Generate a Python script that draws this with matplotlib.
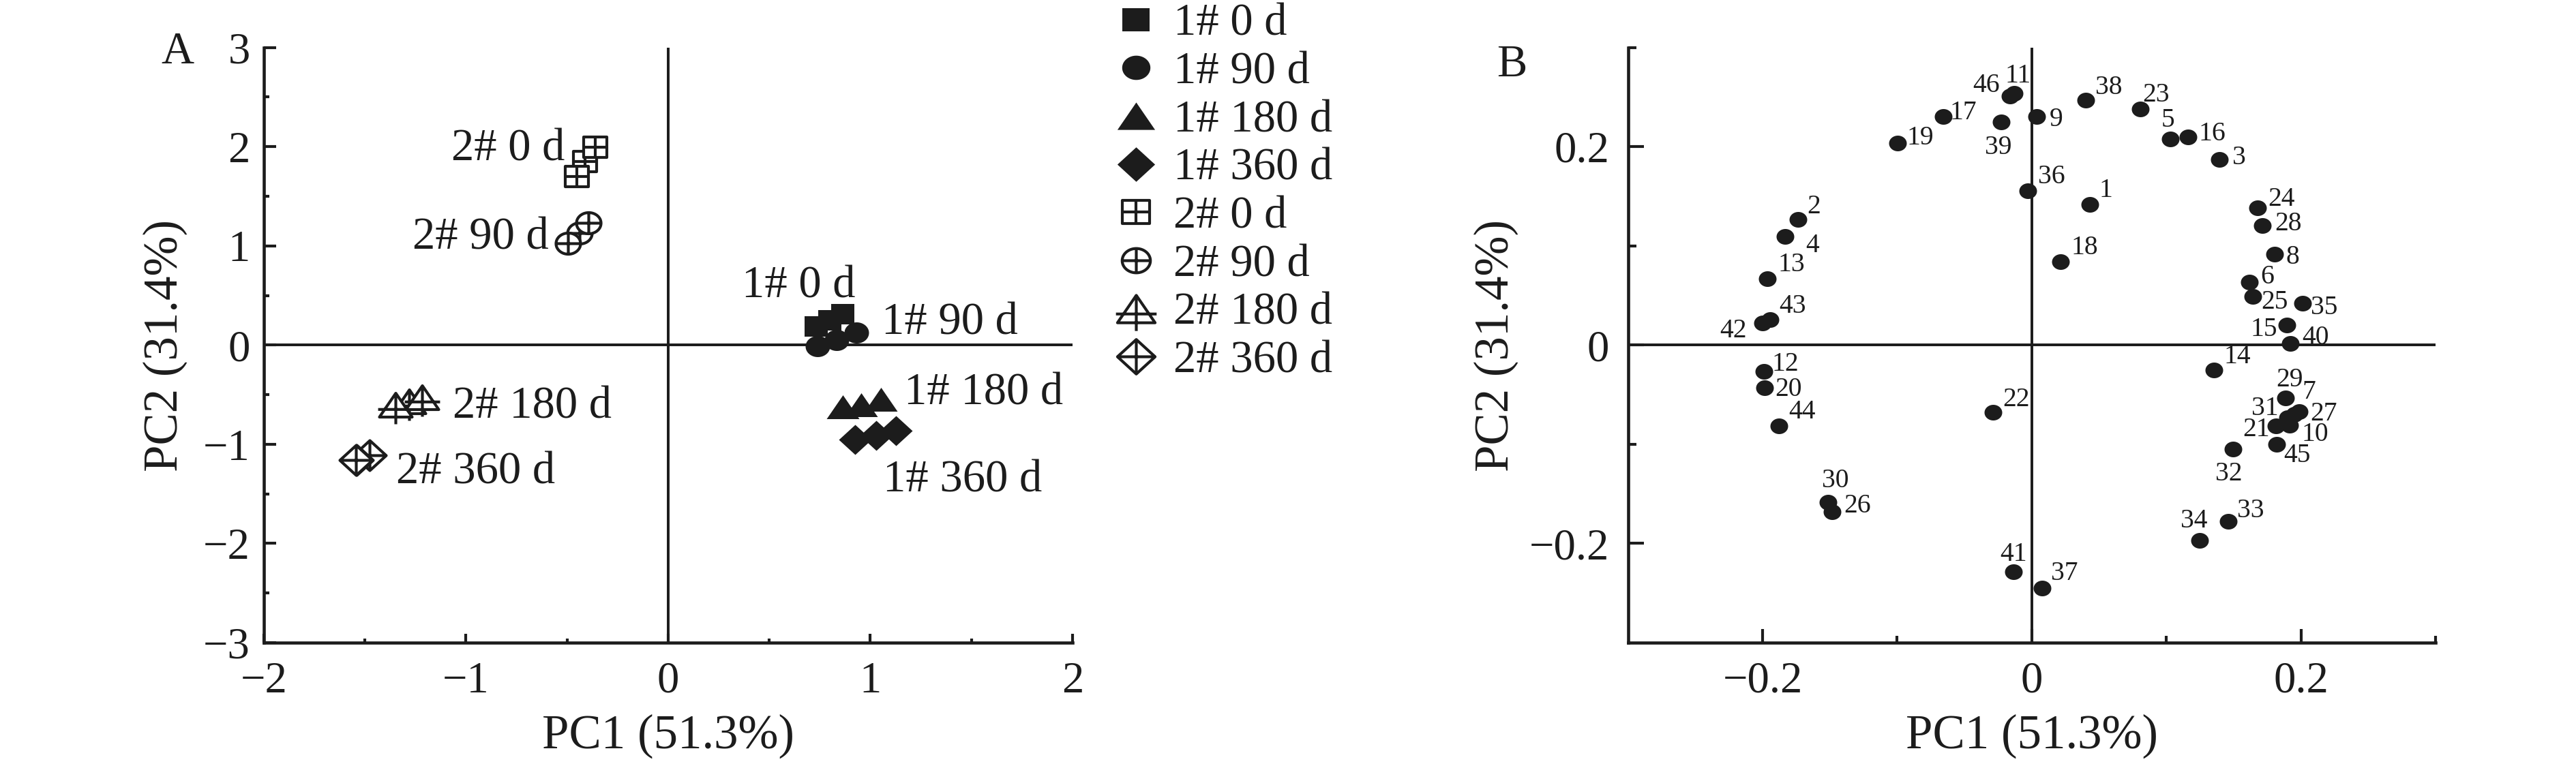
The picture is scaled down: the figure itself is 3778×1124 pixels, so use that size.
import numpy as np
import matplotlib
matplotlib.use("Agg")
import matplotlib.pyplot as plt
from matplotlib.path import Path
from matplotlib.lines import Line2D

plt.rcParams['font.family'] = ['Liberation Serif', 'DejaVu Serif']
plt.rcParams['axes.unicode_minus'] = True

DPI = 300
PX = DPI / 72.0
INK = '#1c1c1c'
W_PX, H_PX = 3779, 1124

# ---------------- Panel A data ----------------
group_labels = ["1# 0 d", "1# 90 d", "1# 180 d", "1# 360 d",
                "2# 0 d", "2# 90 d", "2# 180 d", "2# 360 d"]
pc1_1_0d = [0.733, 0.798, 0.862]
pc2_1_0d = [0.19, 0.25, 0.31]
pc1_1_90d = [0.737, 0.834, 0.93]
pc2_1_90d = [-0.01, 0.048, 0.126]
pc1_1_180d = [0.863, 0.956, 1.052]
pc2_1_180d = [-0.625, -0.60, -0.548]
pc1_1_360d = [0.924, 1.027, 1.126]
pc2_1_360d = [-0.95, -0.91, -0.865]
pc1_2_0d = [-0.410, -0.362, -0.453]
pc2_2_0d = [1.848, 1.996, 1.699]
pc1_2_90d = [-0.438, -0.396, -0.495]
pc2_2_90d = [1.128, 1.231, 1.025]
pc1_2_180d = [-1.282, -1.349, -1.217]
pc2_2_180d = [-0.567, -0.602, -0.525]
pc1_2_360d = [-1.478, -1.543, -1.546]
pc2_2_360d = [-1.114, -1.157, -1.16]

a_xticks = [-2, -1, 0, 1, 2]
a_xticklabels = ["\u22122", "\u22121", "0", "1", "2"]
a_yticks = [-3, -2, -1, 0, 1, 2, 3]
a_yticklabels = ["\u22123", "\u22122", "\u22121", "0", "1", "2", "3"]

# ---------------- Panel B data ----------------
var_ids = list(range(1, 47))
pc1_B = [0.043, -0.1738, 0.1393, -0.1835, 0.103, 0.1618, 0.1952, 0.1805, 0.0034, 0.1918,
         -0.0131, -0.1992, -0.1963, 0.1352, 0.1896, 0.1163, -0.0657, 0.0213, -0.0995, -0.1985,
         0.1813, -0.0288, 0.0805, 0.1676, 0.164, -0.1484, 0.1989, 0.1713, 0.1884, -0.1516,
         0.190, 0.1497, 0.1459, 0.1248, 0.201, -0.0027, 0.0079, 0.0401, -0.0228, 0.192,
         -0.0136, -0.2, -0.1944, -0.1878, 0.182, -0.0162]
pc2_B = [0.1415, 0.1267, 0.187, 0.1095, 0.2074, 0.0633, -0.0697, 0.0918, 0.23, -0.0811,
         0.254, -0.0263, 0.0665, -0.0249, 0.0198, 0.2096, 0.23, 0.0837, 0.2037, -0.0433,
         -0.0816, -0.0679, 0.2379, 0.1385, 0.0492, -0.1678, -0.0669, 0.1206, -0.0536, -0.1585,
         -0.0731, -0.1047, -0.1778, -0.197, 0.0419, 0.1557, -0.2448, 0.2467, 0.225, 0.0018,
         -0.2287, 0.0222, 0.0259, -0.0815, -0.1002, 0.2509]
b_ticks = [-0.2, 0, 0.2]
b_ticklabels = ["\u22120.2", "0", "0.2"]

# label placement for panel B (pixel offsets: right, down)
b_label_offsets = [(23.9, -25), (23, -23.2), (28.7, -7.1), (40.6, 8.9), (-3.3, -32.1),
                   (25.8, -11.8), (20.7, -36.7), (26.3, 0), (29.6, 0), (36.7, 8.3),
                   (5.7, -29.3), (32, -14.4), (34.9, -25), (34.4, -23.2), (-33.5, 1.8),
                   (34.9, -8.9), (29.6, -10.7), (35.9, -25), (32.5, -11.4), (35.4, -2),
                   (-29, 1), (34.4, -23.4), (23, -25), (34.9, -16.8), (32.5, 4.6),
                   (36.8, -12.3), (36, -1), (38.2, -7.1), (6, -31.7), (11, -35.8),
                   (-33, -18), (-6.2, 32), (32.5, -20.6), (-8.6, -32.9), (32, 1.8),
                   (34.4, -25), (32.5, -25.5), (33.5, -22.8), (-3.8, 32.8), (36.8, -12.9),
                   (0, -30), (-42.5, 7.1), (32.5, -23.2), (34, -24.7), (30, 12.3),
                   (-34.4, -19.6)]


# ---------------- marker helpers ----------------
def _poly(pts, closed=True):
    pts = [tuple(p) for p in pts]
    if closed:
        verts = pts + [pts[0]]
        codes = [Path.MOVETO] + [Path.LINETO] * (len(pts) - 1) + [Path.CLOSEPOLY]
    else:
        verts = pts
        codes = [Path.MOVETO] + [Path.LINETO] * (len(pts) - 1)
    return verts, codes


def _ellipse(w, h, n=72):
    t = np.linspace(0, 2 * np.pi, n, endpoint=False)
    return _poly(np.column_stack([w / 2 * np.cos(t), h / 2 * np.sin(t)]))


def _marker(*parts):
    verts, codes = [], []
    for v, c in parts:
        verts += list(v)
        codes += list(c)
    verts = np.asarray(verts, float)
    return Path(verts, codes), 2 * np.abs(verts).max() / PX


def m_square(w, h, cross=False):
    parts = [_poly([(-w / 2, -h / 2), (w / 2, -h / 2), (w / 2, h / 2), (-w / 2, h / 2)])]
    if cross:
        parts += [_poly([(0, -h / 2), (0, h / 2)], False), _poly([(-w / 2, 0), (w / 2, 0)], False)]
    return _marker(*parts)


def m_circle(w, h, cross=False):
    parts = [_ellipse(w, h)]
    if cross:
        parts += [_poly([(0, -h / 2), (0, h / 2)], False), _poly([(-w / 2, 0), (w / 2, 0)], False)]
    return _marker(*parts)


def m_triangle(w, h, cross=False):
    parts = [_poly([(0, h / 2), (-w / 2, -h / 2), (w / 2, -h / 2)])]
    if cross:
        yh = h / 2 - 0.68 * h
        parts += [_poly([(0, h / 2), (0, -h / 2 - 0.3 * h)], False),
                  _poly([(-0.54 * w, yh), (0.54 * w, yh)], False)]
    return _marker(*parts)


def m_diamond(w, h, cross=False):
    parts = [_poly([(0, h / 2), (w / 2, 0), (0, -h / 2), (-w / 2, 0)])]
    if cross:
        parts += [_poly([(0, -h / 2), (0, h / 2)], False), _poly([(-w / 2, 0), (w / 2, 0)], False)]
    return _marker(*parts)


shape_funcs = [m_square, m_circle, m_triangle, m_diamond]
shape_dims = [(35, 30), (36, 31), (48, 35), (48, 44)]
LEG_SCALE = 1.15

xs_A = [pc1_1_0d, pc1_1_90d, pc1_1_180d, pc1_1_360d, pc1_2_0d, pc1_2_90d, pc1_2_180d, pc1_2_360d]
ys_A = [pc2_1_0d, pc2_1_90d, pc2_1_180d, pc2_1_360d, pc2_2_0d, pc2_2_90d, pc2_2_180d, pc2_2_360d]

# ---------------- figure ----------------
fig = plt.figure(figsize=(W_PX / DPI, H_PX / DPI), dpi=DPI)
top_px, bot_px = 69.6, 943.0
axA = fig.add_axes([387 / W_PX, 1 - bot_px / H_PX, (1573 - 387) / W_PX, (bot_px - top_px) / H_PX])
axB = fig.add_axes([2387.6 / W_PX, 1 - bot_px / H_PX, (3572 - 2387.6) / W_PX, (bot_px - top_px) / H_PX])

for ax in (axA, axB):
    for s in ('top', 'right'):
        ax.spines[s].set_visible(False)
    for s in ('left', 'bottom'):
        ax.spines[s].set_linewidth(1.1)
        ax.spines[s].set_color(INK)
    ax.axhline(0, color=INK, lw=0.95, zorder=1)
    ax.axvline(0, color=INK, lw=0.95, zorder=1)
    ax.tick_params(which='both', direction='in', color=INK, width=1.0,
                   labelcolor=INK, labelsize=15.5)

# ---- Panel A ----
handles = []
for gi in range(8):
    f = shape_funcs[gi % 4]
    w, h = shape_dims[gi % 4]
    cross = gi >= 4
    path, size = f(w, h, cross)
    lpath, lsize = f(w * LEG_SCALE, h * LEG_SCALE, cross)
    if cross:
        fc, ec, lw = 'white', INK, 1.0
    else:
        fc, ec, lw = INK, INK, 0.0
    axA.scatter(xs_A[gi], ys_A[gi], marker=path, s=size ** 2, facecolors=fc,
                edgecolors=ec, linewidths=lw, zorder=3)
    handles.append(Line2D([], [], linestyle='none', marker=lpath, markersize=lsize,
                          markerfacecolor=fc, markeredgecolor=ec, markeredgewidth=lw))

axA.set_xlim(-2, 2)
axA.set_ylim(-3, 3)
axA.set_xticks(a_xticks)
axA.set_xticklabels(a_xticklabels)
axA.set_xticks([-1.5, -0.5, 0.5, 1.5], minor=True)
axA.set_yticks(a_yticks)
axA.set_yticklabels(a_yticklabels)
axA.set_yticks(np.arange(-2.5, 3, 1.0), minor=True)
axA.tick_params(axis='y', which='major', length=4.3, pad=4.8)
axA.tick_params(axis='y', which='minor', length=2.0)
axA.tick_params(axis='x', which='major', length=3.1, pad=6.5)
axA.tick_params(axis='x', which='minor', length=1.5)

# group labels in panel A (data coords of anchor)
a_label_pos = [(0.364, 0.477, 'left'), (1.056, 0.106, 'left'), (1.166, -0.597, 'left'),
               (1.062, -1.476, 'left'), (-0.512, 1.86, 'right'), (-0.590, 0.968, 'right'),
               (-1.067, -0.737, 'left'), (-1.347, -1.393, 'left')]
for lab, (lx, ly, ha) in zip(group_labels, a_label_pos):
    axA.text(lx, ly, lab, ha=ha, va='baseline', fontsize=16, color=INK, zorder=4)

axA.set_xlabel("PC1 (51.3%)", fontsize=17, color=INK)
axA.set_ylabel("PC2 (31.4%)", fontsize=17, color=INK)
axA.xaxis.set_label_coords(0.5, (bot_px - 1080) / (bot_px - top_px))
axA.xaxis.label.set_verticalalignment('center')
axA.yaxis.set_label_coords((242 - 387) / 1186, 0.499)
axA.yaxis.label.set_verticalalignment('center')

fig.legend(handles, group_labels, loc='upper left',
           bbox_to_anchor=(1626 / W_PX, 1 - 5 / H_PX), bbox_transform=fig.transFigure,
           frameon=False, borderpad=0, borderaxespad=0, handlelength=1.2,
           handletextpad=0.23, labelspacing=0.145, fontsize=16, labelcolor=INK)

# ---- Panel B ----
pB, sB = m_circle(26, 23)
axB.scatter(pc1_B, pc2_B, marker=pB, s=sB ** 2, facecolors=INK, edgecolors=INK,
            linewidths=0, zorder=3)
for vid, x, y, (dx, dy) in zip(var_ids, pc1_B, pc2_B, b_label_offsets):
    axB.annotate(str(vid), (x, y), xytext=(dx / PX, -dy / PX), textcoords='offset points',
                 ha='center', va='center_baseline', fontsize=9.5, color=INK, zorder=4)

axB.set_xlim(-0.3, 0.3)
axB.set_ylim(-0.3, 0.3)
axB.set_xticks(b_ticks)
axB.set_xticklabels(b_ticklabels)
axB.set_xticks([-0.1, 0.1, 0.3], minor=True)
axB.set_yticks(b_ticks)
axB.set_yticklabels(b_ticklabels)
axB.set_yticks([-0.1, 0.1, 0.3], minor=True)
axB.tick_params(axis='y', which='major', length=5.5, pad=6.6)
axB.tick_params(axis='y', which='minor', length=2.9)
axB.tick_params(axis='x', which='major', length=4.8, pad=6.5)
axB.tick_params(axis='x', which='minor', length=2.4)

axB.set_xlabel("PC1 (51.3%)", fontsize=17, color=INK)
axB.set_ylabel("PC2 (31.4%)", fontsize=17, color=INK)
axB.xaxis.set_label_coords(0.5, (bot_px - 1080) / (bot_px - top_px))
axB.xaxis.label.set_verticalalignment('center')
axB.yaxis.set_label_coords((2194 - 2387.6) / 1184.4, 0.499)
axB.yaxis.label.set_verticalalignment('center')

# panel letters
fig.text(236 / W_PX, 1 - 93 / H_PX, "A", ha='left', va='baseline', fontsize=16, color=INK)
fig.text(2195 / W_PX, 1 - 112.5 / H_PX, "B", ha='left', va='baseline', fontsize=16, color=INK)

fig.savefig("out.png", dpi=DPI)
